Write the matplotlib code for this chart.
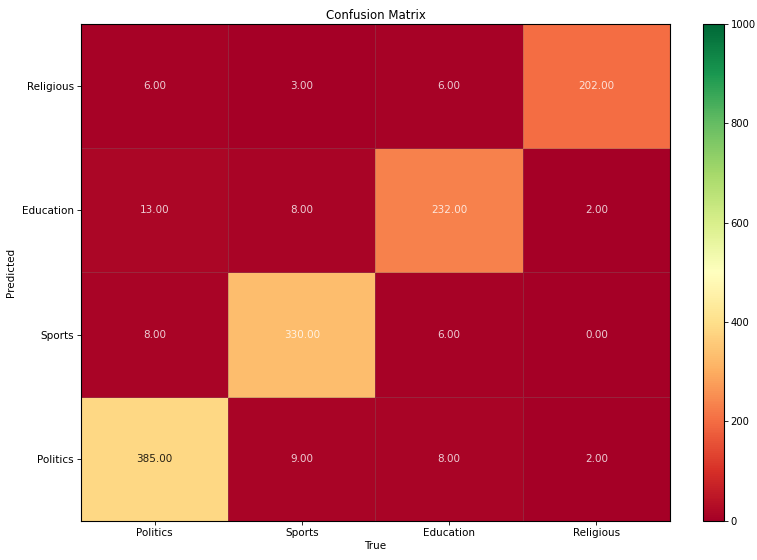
import numpy as np
import matplotlib
matplotlib.use("Agg")
import matplotlib.pyplot as plt

true_labels = ["Politics", "Sports", "Education", "Religious"]
pred_labels = ["Politics", "Sports", "Education", "Religious"]

# rows = predicted (bottom to top), columns = true
counts_politics = [385, 9, 8, 2]
counts_sports = [8, 330, 6, 0]
counts_education = [13, 8, 232, 2]
counts_religious = [6, 3, 6, 202]

cbar_ticks = [0, 200, 400, 600, 800, 1000]


def main():
    matrix = np.array([counts_politics, counts_sports, counts_education, counts_religious], dtype=float)

    fig = plt.figure(figsize=(7.57, 5.6), dpi=100)
    ax = fig.add_axes([0.107, 0.07, 0.778, 0.887])
    cax = fig.add_axes([0.929, 0.07, 0.028, 0.887])

    mesh = ax.pcolormesh(matrix, cmap="RdYlGn", vmin=0, vmax=1000,
                         edgecolors=(0.5, 0.4, 0.4, 0.35), linewidth=0.5)

    for i in range(matrix.shape[0]):
        for j in range(matrix.shape[1]):
            val = matrix[i, j]
            color = "black" if val > 350 else "white"
            alpha = 0.8 if val <= 350 else 0.85
            ax.text(j + 0.5, i + 0.5, f"{val:.2f}", ha="center", va="center",
                    color=color, alpha=alpha, fontsize=7.5)

    ax.set_xticks(np.arange(len(true_labels)) + 0.5)
    ax.set_xticklabels(true_labels, fontsize=7.5)
    ax.set_yticks(np.arange(len(pred_labels)) + 0.5)
    ax.set_yticklabels(pred_labels, fontsize=7.5)
    ax.set_xlabel("True", fontsize=7.5, labelpad=2)
    ax.set_ylabel("Predicted", fontsize=7.5)
    ax.set_title("Confusion Matrix", fontsize=8.5, pad=4)
    ax.tick_params(length=3, width=0.6, pad=2)
    for s in ax.spines.values():
        s.set_linewidth(0.8)

    cb = fig.colorbar(mesh, cax=cax, ticks=cbar_ticks)
    cb.ax.tick_params(labelsize=7.2, length=3, width=0.6, pad=1.5)
    cb.outline.set_linewidth(0.8)

    fig.savefig("out.png", dpi=100)
    plt.close(fig)


if __name__ == "__main__":
    main()
